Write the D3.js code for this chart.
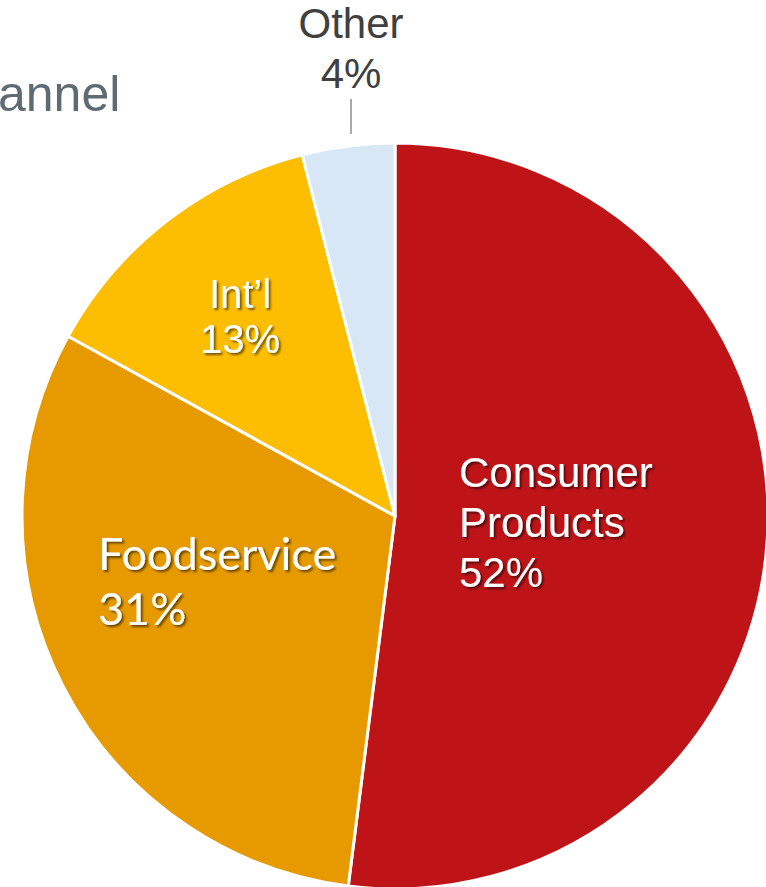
<!DOCTYPE html>
<html>
<meta charset="utf-8">
<style>
body { margin: 0; background: #fff; }
svg { display: block; }
</style>
<head>
<script src="https://d3js.org/d3.v7.min.js"></script>
</head>
<body>
<script>
// slices, clockwise from 12 o'clock
var categories = ["Consumer Products", "Foodservice", "Int\u2019l", "Other"];
var values = [52, 31, 13, 4];
var labelLines = [["Consumer", "Products", "52%"], ["Foodservice", "31%"], ["Int\u2019l", "13%"], ["Other", "4%"]];
var colors = ["#BE1418", "#E69A00", "#FDBD00", "#D7E7F5"];

(function () {
  var width = 766, height = 887;
  var cx = 395, cy = 516, radius = 373;

  var svg = d3.select("body").append("svg")
    .attr("width", width)
    .attr("height", height);

  var defs = svg.append("defs");
  defs.append("filter")
    .attr("id", "shadow")
    .attr("x", "-10%").attr("y", "-10%")
    .attr("width", "120%").attr("height", "130%")
    .append("feDropShadow")
    .attr("dx", 2).attr("dy", 2)
    .attr("stdDeviation", 1.2)
    .attr("flood-color", "#000")
    .attr("flood-opacity", 0.55);

  // cut-off title at top left
  svg.append("text")
    .attr("x", -2)
    .attr("y", 111)
    .attr("font-family", "Liberation Sans, Arial, sans-serif")
    .attr("font-size", 50)
    .attr("fill", "#5F6B73")
    .text("annel");

  var data = categories.map(function (c, i) {
    return { name: c, value: values[i], color: colors[i], lines: labelLines[i] };
  });

  var pie = d3.pie().sort(null).value(function (d) { return d.value; });
  var arc = d3.arc().innerRadius(0).outerRadius(radius);

  var g = svg.append("g").attr("transform", "translate(" + cx + "," + cy + ")");

  g.selectAll("path")
    .data(pie(data))
    .enter().append("path")
    .attr("d", arc)
    .attr("fill", function (d) { return d.data.color; })
    .attr("stroke", "#fff")
    .attr("stroke-width", 3)
    .attr("stroke-linejoin", "round");

  // label layout (offset from pie centre), hand placed like the original
  var labelLayout = [
    { dx: 64, dy: -29, lh: 50, anchor: "start", font: "Liberation Sans, Arial, sans-serif", size: 42, fill: "#fff", shadow: true },
    { dx: -297, dy: 54, lh: 55, anchor: "start", font: "Lato, Carlito, sans-serif", size: 45, fill: "#fff", shadow: true },
    { dx: -155, dy: -208, lh: 45, anchor: "middle", font: "Liberation Sans, Arial, sans-serif", size: 40, fill: "#fff", shadow: true },
    { dx: -44, dy: -478, lh: 50, anchor: "middle", font: "Liberation Sans, Arial, sans-serif", size: 42, fill: "#404040", shadow: false }
  ];

  data.forEach(function (d, i) {
    var L = labelLayout[i];
    var t = g.append("text")
      .attr("x", L.dx)
      .attr("y", L.dy)
      .attr("text-anchor", L.anchor)
      .attr("font-family", L.font)
      .attr("font-size", L.size)
      .attr("fill", L.fill);
    if (L.shadow) t.attr("filter", "url(#shadow)");
    d.lines.forEach(function (line, j) {
      t.append("tspan")
        .attr("x", L.dx)
        .attr("dy", j === 0 ? 0 : L.lh)
        .text(line);
    });
  });

  // leader line for Other
  g.append("line")
    .attr("x1", -44).attr("x2", -44)
    .attr("y1", -417).attr("y2", -382)
    .attr("stroke", "#8c8c8c")
    .attr("stroke-width", 1.5);
})();
</script>
</body>
</html>
